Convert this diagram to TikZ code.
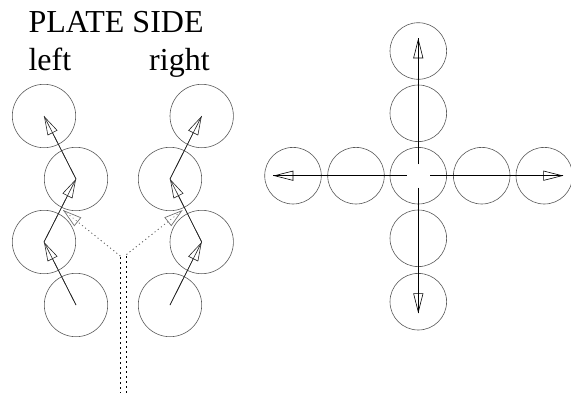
\documentclass[tikz,border=0pt]{standalone}
\usepackage{fontspec}
\setmainfont{Liberation Serif}
\usetikzlibrary{arrows.meta}
\begin{document}
\begin{tikzpicture}[x=1pt,y=-1pt,
  ring/.style={circle, draw=black!65, line width=0.6pt, inner sep=0pt, minimum size=63.4pt},
  ringc/.style={ring, minimum size=56.6pt},
  chain/.style={draw=black!85, line width=0.6pt,
    postaction={draw, -{Triangle[open, length=19pt, width=11pt]}}},
  axis/.style={draw=black, line width=1.1pt,
    postaction={draw, line width=0.6pt, -{Triangle[open, length=20pt, width=10pt]}}},
  feed/.style={draw=black!55, line width=0.7pt, dash pattern=on 1pt off 3pt,
    postaction={draw, -{Triangle[open, length=19pt, width=11pt]}}},
  pipe/.style={draw=black, line width=0.9pt, dash pattern=on 2pt off 3pt},
  label/.style={anchor=base west, inner sep=0pt, font=\fontsize{32}{36}\selectfont}]
\useasboundingbox (0,0) rectangle (571,394);
% texts
\node[label] (title) at (28.3,32) {PLATE SIDE};
\node[label] (lt) at (28.3,70) {left};
\node[label] (rt) at (149,70) {right};
% left column
\node[ring] (L1) at (44,116) {};
\node[ring] (L2) at (76,179) {};
\node[ring] (L3) at (44,242) {};
\node[ring] (L4) at (76,305) {};
% right column
\node[ring] (R1) at (201.7,116) {};
\node[ring] (R2) at (170,179) {};
\node[ring] (R3) at (201.7,242) {};
\node[ring] (R4) at (170,305) {};
\draw[chain] (L4.center) -- (L3.center);
\draw[chain] (L3.center) -- (L2.center);
\draw[chain] (L2.center) -- (L1.center);
\draw[chain] (R4.center) -- (R3.center);
\draw[chain] (R3.center) -- (R2.center);
\draw[chain] (R2.center) -- (R1.center);
% feed lines
\coordinate (fl) at (120.3,256);
\coordinate (fr) at (126.5,254.5);
\coordinate (tl) at (63,210);
\coordinate (tr) at (182.7,210);
\coordinate (vl0) at (120.7,257);
\coordinate (vl1) at (120.7,393);
\coordinate (vr0) at (126.3,256);
\coordinate (vr1) at (126.3,393);
\draw[feed] (fl) -- (tl);
\draw[feed] (fr) -- (tr);
\draw[pipe] (vl0) -- (vl1);
\draw[pipe] (vr0) -- (vr1);
% cross
\node[ringc] (C) at (418.3,175.7) {};
\node[ringc] (U1) at (418.3,113.3) {};
\node[ringc] (U2) at (418.3,51) {};
\node[ringc] (D1) at (418.3,238.3) {};
\node[ringc] (D2) at (418.3,301.7) {};
\node[ringc] (W1) at (356,175.7) {};
\node[ringc] (W2) at (293,175.7) {};
\node[ringc] (E1) at (481.7,175.7) {};
\node[ringc] (E2) at (544.3,175.7) {};
\coordinate (cu) at (418.3,164.2);
\coordinate (cd) at (418.3,187.9);
\coordinate (cl) at (406.8,175.7);
\coordinate (cr) at (430.2,175.7);
\coordinate (au) at (418.3,38.3);
\coordinate (ad) at (418.3,313.3);
\coordinate (al) at (273.3,175.7);
\coordinate (ar) at (563.3,175.7);
\draw[axis] (cu) -- (au);
\draw[axis] (cd) -- (ad);
\draw[axis] (cl) -- (al);
\draw[axis] (cr) -- (ar);
\end{tikzpicture}
\end{document}
